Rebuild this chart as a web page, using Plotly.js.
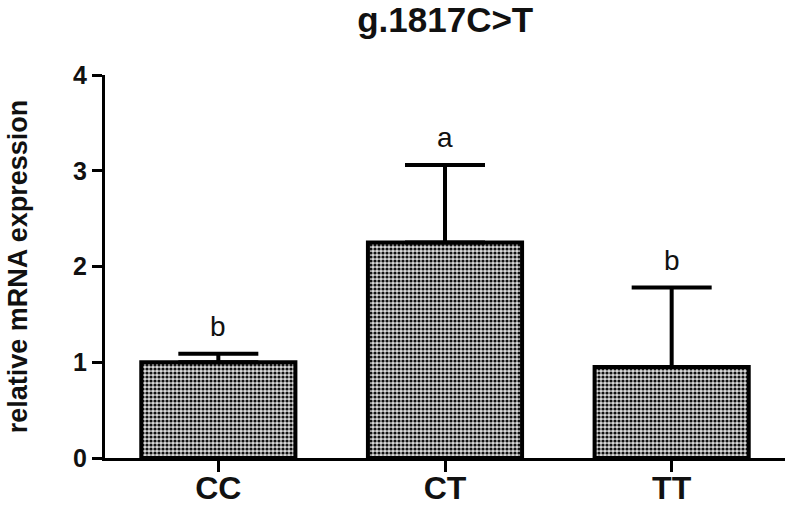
<!DOCTYPE html>
<html>
<head>
<meta charset="utf-8">
<script src="https://cdn.plot.ly/plotly-3.0.1.min.js"></script>
<style>
  html, body { margin: 0; padding: 0; background: #fff; }
  #chart { width: 788px; height: 508px; }
</style>
</head>
<body>
<div id="chart"></div>
<script>
// genotype groups and relative expression (mean, upper error)
const genotypes = ['CC', 'CT', 'TT'];
const expression = [1.0, 2.25, 0.95];
const errUpper = [0.09, 0.81, 0.83];
const sigLetters = ['b', 'a', 'b'];

const FONT = "'Liberation Sans', Arial, sans-serif";

const bars = {
  x: genotypes,
  y: expression,
  type: 'bar',
  width: 0.68,
  marker: {
    color: '#ffffff',
    line: { color: '#000', width: 4 },
    pattern: { shape: '.', fgcolor: '#111', bgcolor: '#d9d9d9', size: 4, solidity: 0.5 },
  },
  error_y: {
    type: 'data', symmetric: false,
    array: errUpper,
    arrayminus: genotypes.map(() => 0),
    color: '#000', thickness: 4, width: 40,
  },
  hoverinfo: 'skip',
};

// significance letters sit a little above each error cap
const letterAnnotations = genotypes.map((g, i) => ({
  x: g, y: expression[i] + errUpper[i],
  text: sigLetters[i],
  showarrow: false, yanchor: 'bottom', yshift: 10,
  font: { family: FONT, size: 28, color: '#111' },
}));

const layout = {
  width: 788, height: 508,
  margin: { t: 75, r: 3, b: 50, l: 105 },
  paper_bgcolor: '#fff', plot_bgcolor: '#fff',
  showlegend: false,
  title: {
    text: '<b>g.1817C>T</b>',
    font: { family: FONT, size: 35, color: '#111' },
    x: 0.565, xanchor: 'center', y: 0.962, yanchor: 'middle',
  },
  xaxis: {
    range: [-0.5, 2.5],
    showline: true, linecolor: '#000', linewidth: 3,
    ticks: 'outside', ticklen: 11, tickwidth: 3, tickcolor: '#000',
    ticklabelstandoff: -11,
    tickfont: { family: FONT, size: 32, color: '#111', weight: 'bold' },
    showgrid: false, zeroline: false, fixedrange: true,
  },
  yaxis: {
    range: [0, 4],
    tickvals: [0, 1, 2, 3, 4],
    showline: true, linecolor: '#000', linewidth: 3,
    ticks: 'outside', ticklen: 10, tickwidth: 3, tickcolor: '#000',
    tickfont: { family: FONT, size: 25, color: '#111', weight: 'bold' },
    title: {
      text: '<b>relative mRNA expression</b>',
      font: { family: FONT, size: 27, color: '#111' },
      standoff: 38,
    },
    showgrid: false, zeroline: false, fixedrange: true,
  },
  annotations: letterAnnotations,
};

Plotly.newPlot('chart', [bars], layout, { displayModeBar: false, staticPlot: true });
</script>
</body>
</html>
